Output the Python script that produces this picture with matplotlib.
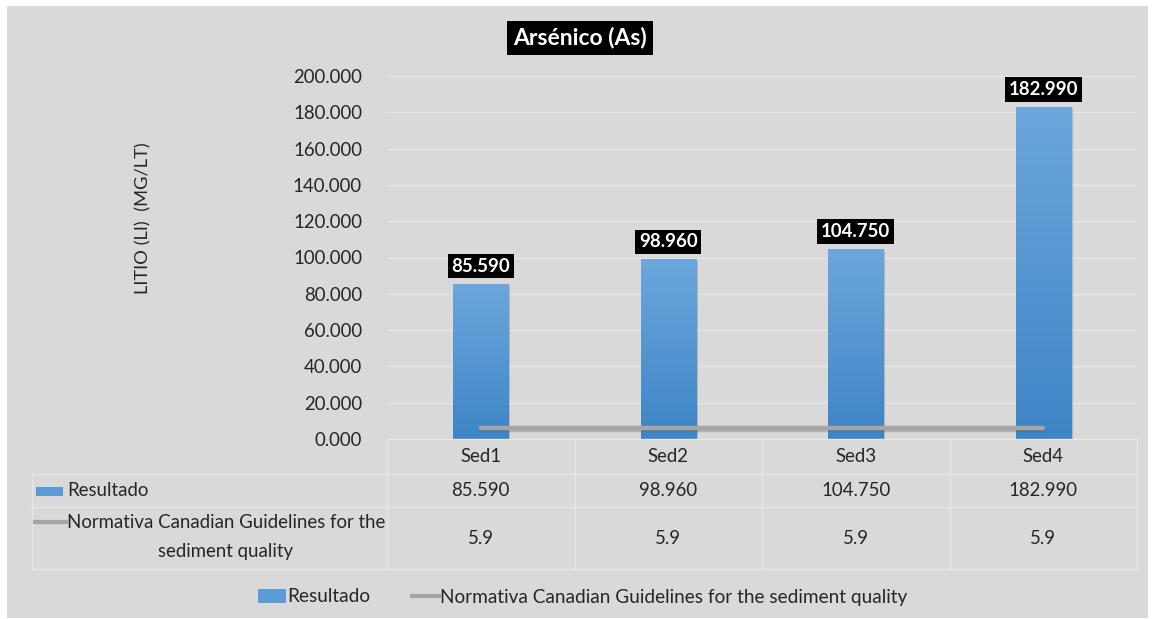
"""Arsenic results per sediment sample vs Canadian guideline."""

import matplotlib

matplotlib.use("Agg", force=True)
import matplotlib.pyplot as plt
import matplotlib.patheffects as pe
import numpy as np
from matplotlib.colors import LinearSegmentedColormap
from matplotlib.lines import Line2D
from matplotlib.patches import Rectangle

categories = ["Sed1", "Sed2", "Sed3", "Sed4"]
resultado = [85.590, 98.960, 104.750, 182.990]
normativa = [5.9, 5.9, 5.9, 5.9]
y_ticks = [0, 20, 40, 60, 80, 100, 120, 140, 160, 180, 200]
bar_label = "Resultado"
line_label = "Normativa Canadian Guidelines for the sediment quality"

plt.rcParams["font.family"] = ["Lato", "DejaVu Sans"]
BG = "#d9d9d9"
GRID = "#e6e6e6"
TXT = "#262626"
BAR_TOP, BAR_BOT = "#6ca7dd", "#3d85c6"
LINE_C = "#a5a5a5"
FS = 13.4

W, H = 1157, 619
fig = plt.figure(figsize=(W / 100, H / 100), dpi=100, facecolor="white")


def fx(px):
    return px / W


def fy(py):
    return 1 - py / H


# grey chart area
fig.patches.append(Rectangle((fx(7), fy(618)), fx(1148 - 7), fy(6) - fy(618),
                             transform=fig.transFigure, facecolor=BG, edgecolor="none", zorder=-10))

x_left, x_right, y_top, y_bot = 387, 1137, 76, 439
ax = fig.add_axes([fx(x_left), fy(y_bot), fx(x_right - x_left), fy(y_top) - fy(y_bot)])
ax.set_facecolor("none")
x = np.arange(len(categories))
ax.set_xlim(-0.5, len(categories) - 0.5)
ax.set_ylim(0, 200)
ax.set_yticks(y_ticks)
ax.set_yticklabels([f"{v:.3f}" for v in y_ticks], fontsize=FS, color=TXT)
ax.set_xticks([])
ax.tick_params(axis="y", length=0, pad=18)
for s in ax.spines.values():
    s.set_visible(False)
ax.grid(axis="y", color=GRID, linewidth=0.9)
ax.set_axisbelow(True)

bars = ax.bar(x, resultado, width=0.295, color=BAR_BOT, zorder=2)
cmap = LinearSegmentedColormap.from_list("bar", [BAR_BOT, BAR_TOP])
grad = np.linspace(0, 1, 256).reshape(-1, 1)
for b in bars:
    x0, w, h = b.get_x(), b.get_width(), b.get_height()
    im = ax.imshow(grad, extent=[x0, x0 + w, 0, h], origin="lower", cmap=cmap,
                   aspect="auto", zorder=2.1)
    im.set_clip_path(b)
    b.set_path_effects([pe.SimplePatchShadow(offset=(1.5, -1.5), alpha=0.2), pe.Normal()])
ax.set_xlim(-0.5, len(categories) - 0.5)
ax.set_ylim(0, 200)

ax.plot(x, normativa, color=LINE_C, linewidth=3.2, solid_capstyle="round", zorder=3,
        path_effects=[pe.SimpleLineShadow(offset=(0.5, -1.5), shadow_color="#606060", alpha=0.3),
                      pe.Normal()])

for xi, v in zip(x, resultado):
    ax.text(xi, v + 5, f"{v:.3f}", ha="center", va="bottom", fontsize=FS, fontweight="bold",
            color="white", zorder=5,
            bbox=dict(boxstyle="square,pad=0.2", facecolor="black", edgecolor="none"))

fig.text(fx(580), fy(38), "Arsénico (As)", ha="center", va="center", fontsize=16.5,
         fontweight="bold", color="white",
         bbox=dict(boxstyle="square,pad=0.28", facecolor="black", edgecolor="none"))

fig.text(fx(143), fy(218), "LITIO (LI)  (MG/LT)", rotation=90, ha="center", va="center",
         fontsize=13.2, color=TXT)

# data table
rows = [439, 474, 507, 569]
cols = [x_left + i * (x_right - x_left) / 4 for i in range(5)]
tl = dict(transform=fig.transFigure, color=GRID, linewidth=1.0)
fig.add_artist(Line2D([fx(x_left), fx(x_right)], [fy(rows[0])] * 2, **tl))
for r in rows[1:]:
    fig.add_artist(Line2D([fx(32), fx(x_right)], [fy(r)] * 2, **tl))
for c in cols:
    fig.add_artist(Line2D([fx(c)] * 2, [fy(rows[0]), fy(rows[-1])], **tl))
fig.add_artist(Line2D([fx(32)] * 2, [fy(rows[1]), fy(rows[-1])], **tl))

for i, cat in enumerate(categories):
    cx = (cols[i] + cols[i + 1]) / 2
    fig.text(fx(cx), fy(457), cat, ha="center", va="center", fontsize=FS, color=TXT)
    fig.text(fx(cx), fy(491), f"{resultado[i]:.3f}", ha="center", va="center", fontsize=FS, color=TXT)
    fig.text(fx(cx), fy(538), f"{normativa[i]:.1f}", ha="center", va="center", fontsize=FS, color=TXT)

fig.patches.append(Rectangle((fx(36), fy(496)), fx(27), fy(487) - fy(496), transform=fig.transFigure,
                             facecolor="#5a9ad6", edgecolor="none"))
fig.text(fx(67), fy(491), bar_label, ha="left", va="center", fontsize=FS, color=TXT)
fig.add_artist(Line2D([fx(35), fx(66)], [fy(522)] * 2, transform=fig.transFigure,
                      color=LINE_C, linewidth=3))
fig.text(fx(67), fy(523), "Normativa Canadian Guidelines for the", ha="left", va="center",
         fontsize=FS, color=TXT)
fig.text(fx(226), fy(551), "sediment quality", ha="center", va="center", fontsize=FS, color=TXT)

# bottom legend
handles = [Rectangle((0, 0), 1, 1, facecolor="#5a9ad6", edgecolor="none"),
           Line2D([0], [0], color=LINE_C, linewidth=3)]
fig.legend(handles, [bar_label, line_label], loc="center", bbox_to_anchor=(fx(583), fy(597)),
           ncol=2, frameon=False, fontsize=FS + 0.3, handlelength=1.45, handletextpad=0.05,
           columnspacing=2.2, labelcolor=TXT)

fig.savefig("out.png", dpi=100, facecolor="white")
plt.close(fig)
